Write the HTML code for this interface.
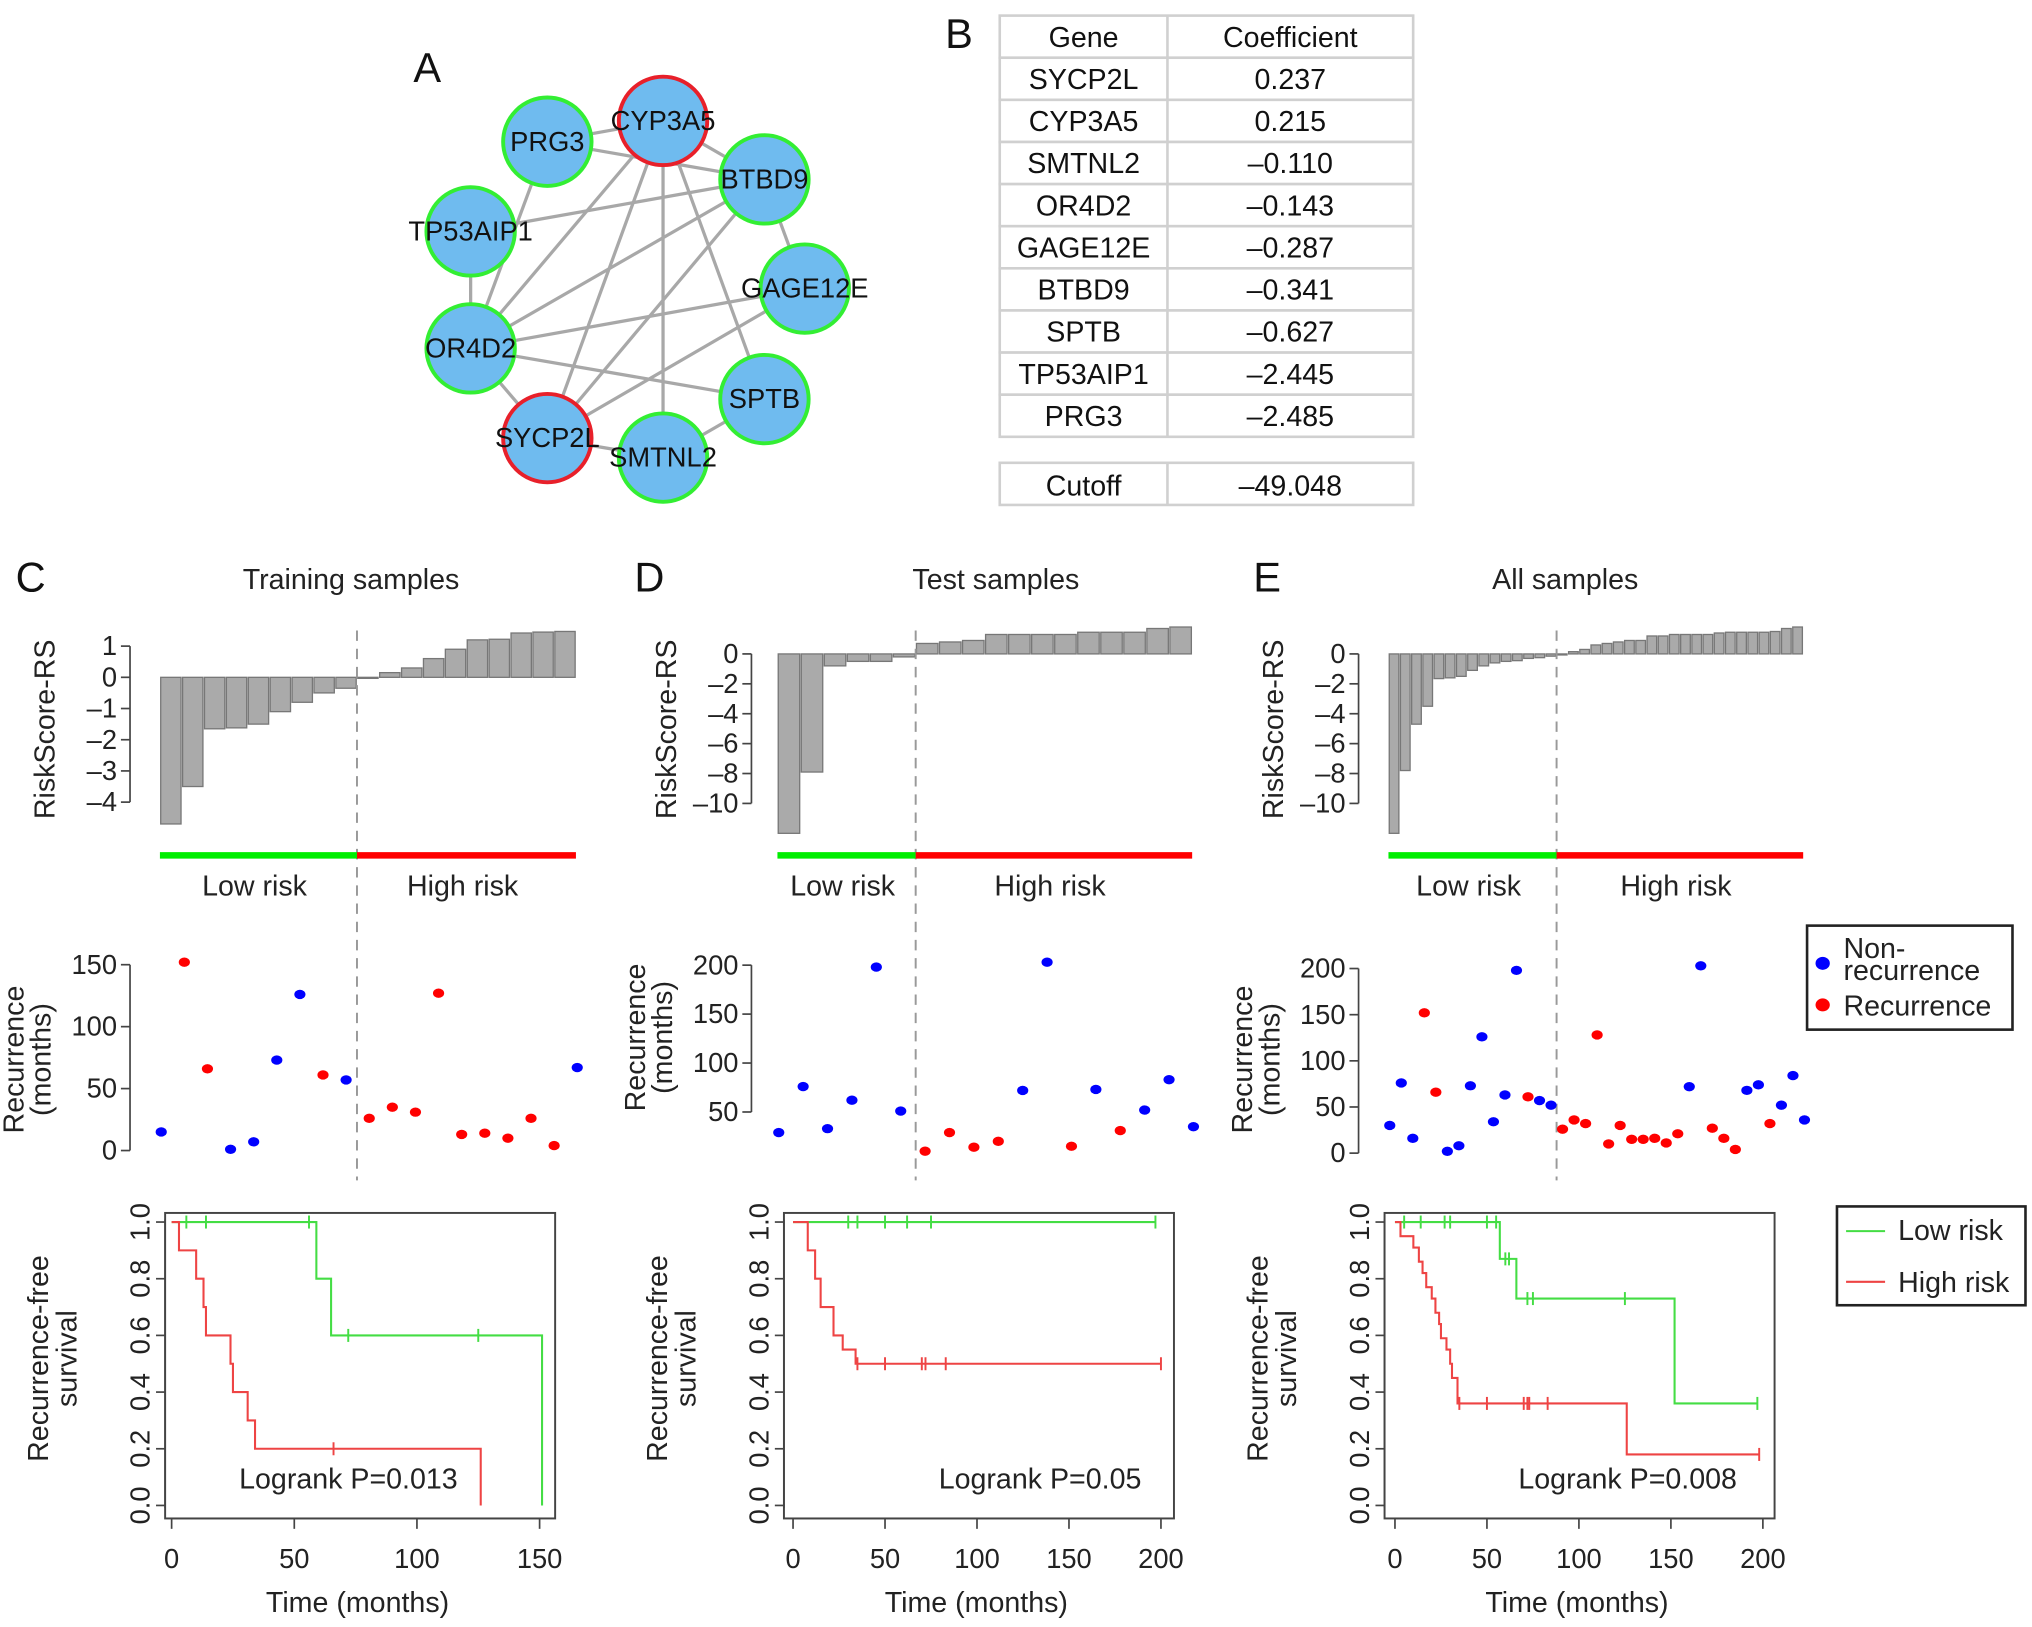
<!DOCTYPE html>
<html><head><meta charset="utf-8"><style>
html,body{margin:0;padding:0;background:#fff;}
svg{display:block;font-family:"Liberation Sans",Arial,sans-serif;}
</style></head><body>
<svg id="fig" xmlns="http://www.w3.org/2000/svg" width="2032" height="1627" viewBox="0 0 1563 1251.5">
<rect width="1563" height="1251.5" fill="#fff"/>
<g id="net"></g>
<g id="tbl"></g>
<g id="plots"></g>
</svg>
<script>
// ---- data ----
const genes = ["SYCP2L","CYP3A5","SMTNL2","OR4D2","GAGE12E","BTBD9","SPTB","TP53AIP1","PRG3"];
const coefs = ["0.237","0.215","\u20130.110","\u20130.143","\u20130.287","\u20130.341","\u20130.627","\u20132.445","\u20132.485"];
const cutoffLabel = "\u201349.048";

const barsC = [-4.7,-3.5,-1.65,-1.62,-1.5,-1.1,-0.8,-0.5,-0.35,0.0,0.15,0.3,0.6,0.9,1.2,1.22,1.42,1.45,1.47];
const lowC = 9;
const recC = [15,152,66,1,7,73,126,61,57,26,35,31,127,13,14,10,26,4,67];
const evC  = [0,1,1,0,0,0,0,1,0,1,1,1,1,1,1,1,1,1,0];

const barsD = [-12.0,-7.9,-0.8,-0.5,-0.5,-0.2,0.7,0.8,0.9,1.3,1.3,1.3,1.3,1.45,1.45,1.45,1.7,1.8];
const lowD = 6;
const recD = [29,76,33,62,198,51,10,29,14,20,72,203,15,73,31,52,83,35];
const evD  = [0,0,0,0,0,0,1,1,1,1,0,0,1,0,1,0,0,0];

const barsE = [-12,-7.8,-4.7,-3.5,-1.65,-1.6,-1.5,-1.1,-0.8,-0.6,-0.5,-0.45,-0.3,-0.25,-0.15,0.0,0.15,0.3,0.6,0.7,0.8,0.9,0.9,1.2,1.2,1.3,1.3,1.3,1.3,1.4,1.45,1.45,1.45,1.45,1.5,1.7,1.8];
const lowE = 15;
const recE = [30,76,16,152,66,2,8,73,126,34,63,198,61,57,52,26,36,32,128,10,30,15,15,16,11,21,72,203,27,16,4,68,74,32,52,84,36];
const evE  = [0,0,0,1,1,0,0,0,0,0,0,0,1,0,0,1,1,1,1,1,1,1,1,1,1,1,0,0,1,1,1,0,0,1,0,0,0];

// KM curves: step times and survival after step
const kmCgT = [0,59,65,151];      const kmCgS = [1,0.8,0.6,0];   const kmCgEnd = 151;
const kmCgCens = [6,14,56,72,125];
const kmCrT = [0,3,10,13,14,24,25,31,34,126]; const kmCrS = [1,0.9,0.8,0.7,0.6,0.5,0.4,0.3,0.2,0]; const kmCrEnd = 126;
const kmCrCens = [66];

const kmDgT = [0]; const kmDgS = [1]; const kmDgEnd = 197;
const kmDgCens = [30,35,50,62,75,197];
const kmDrT = [0,8,12,15,22,27,34]; const kmDrS = [1,0.9,0.8,0.7,0.6,0.55,0.5]; const kmDrEnd = 200;
const kmDrCens = [35,50,70,72,83,200];

const kmEgT = [0,57,66,152]; const kmEgS = [1,0.87,0.73,0.36]; const kmEgEnd = 197;
const kmEgCens = [5,14,27,30,50,55,60,62,72,75,125,197];
const kmErT = [0,3,8,10,13,15,17,20,22,24,25,28,30,31,34,126];
const kmErS = [1,0.95,0.95,0.91,0.86,0.82,0.77,0.73,0.68,0.64,0.59,0.55,0.5,0.45,0.36,0.18];
const kmErEnd = 198;
const kmErCens = [35,50,70,72,73,83,198];

const NS = "http://www.w3.org/2000/svg";
function mk(parent, tag, attrs, text){
  const e = document.createElementNS(NS, tag);
  for (const k in attrs) e.setAttribute(k, attrs[k]);
  if (text !== undefined) e.textContent = text;
  parent.appendChild(e); return e;
}
const plots = document.getElementById('plots');

// ---- Panel A network ----
const net = document.getElementById('net');
const nodes = {CYP3A5:[510,93,1],PRG3:[421,109,0],BTBD9:[588,138,0],TP53AIP1:[362,178,0],GAGE12E:[619,222,0],OR4D2:[362,268,0],SPTB:[588,307,0],SYCP2L:[421,337,1],SMTNL2:[510,352,0]};
const edges = [["PRG3","CYP3A5"],["PRG3","BTBD9"],["PRG3","OR4D2"],["TP53AIP1","BTBD9"],["TP53AIP1","OR4D2"],["CYP3A5","OR4D2"],["CYP3A5","SYCP2L"],["CYP3A5","SMTNL2"],["CYP3A5","SPTB"],["CYP3A5","BTBD9"],["BTBD9","OR4D2"],["BTBD9","SYCP2L"],["BTBD9","GAGE12E"],["OR4D2","GAGE12E"],["OR4D2","SPTB"],["OR4D2","SYCP2L"],["SYCP2L","GAGE12E"],["SYCP2L","SMTNL2"],["SMTNL2","SPTB"]];
edges.forEach(e=>{const a=nodes[e[0]],b=nodes[e[1]];
  const l=mk(net,'line',{x1:a[0],y1:a[1],x2:b[0],y2:b[1],stroke:'#a8a8a8','stroke-width':2.5});
   });
for (const k in nodes){const n=nodes[k];
  const c=mk(net,'circle',{cx:n[0],cy:n[1],r:34,fill:'#6fbbef',stroke:n[2]?'#e8202a':'#33ee33','stroke-width':3});
   }
for (const k in nodes){const n=nodes[k];
  const t=mk(net,'text',{x:n[0],y:n[1]+7,'text-anchor':'middle','font-size':21,fill:'#111'},k);
   }
{const t=mk(net,'text',{x:318,y:63,'font-size':32,fill:'#111'},'A');  }

// ---- Panel B table ----
const tbl = document.getElementById('tbl');
{const t=mk(tbl,'text',{x:727,y:37,'font-size':32,fill:'#111'},'B');  }
const tx0=769, tx1=898, tx2=1087, rowH=32.4, ty0=12;
const rowsT=[["Gene","Coefficient"]].concat(genes.map((g,i)=>[g,coefs[i]]));
rowsT.forEach((r,i)=>{
  const y=ty0+i*rowH;
  const rc=mk(tbl,'rect',{x:tx0,y:y,width:tx2-tx0,height:rowH,fill:'#fff',stroke:'#d0d0d0','stroke-width':2});
   
  mk(tbl,'line',{x1:tx1,y1:y,x2:tx1,y2:y+rowH,stroke:'#d0d0d0','stroke-width':2});
  const a=mk(tbl,'text',{x:(tx0+tx1)/2,y:y+24,'text-anchor':'middle','font-size':22,fill:'#111'},r[0]);
   
  const b=mk(tbl,'text',{x:(tx1+tx2)/2,y:y+24,'text-anchor':'middle','font-size':22,fill:'#111'},r[1]);
   
});
{const y=356;
 mk(tbl,'rect',{x:tx0,y:y,width:tx2-tx0,height:rowH,fill:'#fff',stroke:'#d0d0d0','stroke-width':2});
 mk(tbl,'line',{x1:tx1,y1:y,x2:tx1,y2:y+rowH,stroke:'#d0d0d0','stroke-width':2});
 const a=mk(tbl,'text',{x:(tx0+tx1)/2,y:y+25,'text-anchor':'middle','font-size':22,fill:'#111'},'Cutoff');
  
 const b=mk(tbl,'text',{x:(tx1+tx2)/2,y:y+25,'text-anchor':'middle','font-size':22,fill:'#111'},cutoffLabel);
  }

// ---- helpers ----
function vtext(g,x,y,str,size){
  return mk(g,'text',{x:0,y:0,transform:`translate(${x},${y}) rotate(-90)`,'text-anchor':'middle','font-size':size||22,fill:'#222'},str);
}
function panel(cfg){
  const g=mk(plots,'g',{});
   
  const L=mk(g,'text',{x:cfg.labelX,y:455,'font-size':32,fill:'#111'},cfg.id.toUpperCase());
   
  const T=mk(g,'text',{x:cfg.titleX,y:453,'text-anchor':'middle','font-size':22,fill:'#222'},cfg.title);
   
  // bar chart
  const bars=cfg.bars, n=bars.length, bw=(cfg.x1-cfg.x0)/n;
  const by=v=>cfg.zeroY - v*cfg.ppu;
  const ax=cfg.axisX;
  mk(g,'line',{x1:ax,y1:by(cfg.bTicks[0]),x2:ax,y2:by(cfg.bTicks[cfg.bTicks.length-1]),stroke:'#444','stroke-width':1.3});
  cfg.bTicks.forEach(t=>{
    mk(g,'line',{x1:ax-7,y1:by(t),x2:ax,y2:by(t),stroke:'#444','stroke-width':1.3});
    const tt=mk(g,'text',{x:ax-10,y:by(t)+7,'text-anchor':'end','font-size':21,fill:'#222'},t<0?'\u2013'+(-t):String(t));
     
  });
  const yl=vtext(g,ax-58,cfg.zeroY+cfg.bLabelOff,'RiskScore-RS',22);
   
  bars.forEach((v,i)=>{
    const y0=Math.min(by(v),by(0)), h=Math.max(Math.abs(by(v)-by(0)),0.8);
    const r=mk(g,'rect',{x:cfg.x0+i*bw+0.6,y:y0,width:bw-1.2,height:h,fill:'#aaaaaa',stroke:'#777','stroke-width':1});
     
  });
  const dx=cfg.x0+cfg.nLow*bw;
  const dl=mk(g,'line',{x1:dx,y1:485,x2:dx,y2:908,stroke:'#999','stroke-width':1.5,'stroke-dasharray':'8,6'});
   
  const gb=mk(g,'line',{x1:cfg.x0,y1:658,x2:dx,y2:658,stroke:'#00ee00','stroke-width':5});
   
  const rb=mk(g,'line',{x1:dx,y1:658,x2:cfg.x1,y2:658,stroke:'#ff0000','stroke-width':5});
   
  const lt=mk(g,'text',{x:(cfg.x0+dx)/2-3,y:689,'text-anchor':'middle','font-size':22,fill:'#222'},'Low risk');
   
  const ht=mk(g,'text',{x:(dx+cfg.x1)/2-3,y:689,'text-anchor':'middle','font-size':22,fill:'#222'},'High risk');
   
  // scatter
  const sy=v=>cfg.sZero - v*cfg.sPpu;
  mk(g,'line',{x1:ax,y1:sy(cfg.sTicks[0]),x2:ax,y2:sy(cfg.sTicks[cfg.sTicks.length-1]),stroke:'#444','stroke-width':1.3});
  cfg.sTicks.forEach(t=>{
    mk(g,'line',{x1:ax-7,y1:sy(t),x2:ax,y2:sy(t),stroke:'#444','stroke-width':1.3});
    const tt=mk(g,'text',{x:ax-10,y:sy(t)+7,'text-anchor':'end','font-size':21,fill:'#222'},String(t));
     
  });
  const sl1=vtext(g,ax-82,cfg.sLabelY,'Recurrence',22);  
  const sl2=vtext(g,ax-61,cfg.sLabelY,'(months)',22);  
  const px0=cfg.x0+1, px1=cfg.x1+1, rec=cfg.rec;
  rec.forEach((v,i)=>{
    const e=mk(g,'ellipse',{cx:px0+i*(px1-px0)/(rec.length-1),cy:sy(v),rx:4.3,ry:3.6,fill:cfg.ev[i]?'#ff0000':'#0000ff'});
     
  });
  // KM
  const kx=t=>cfg.kx0 + t*cfg.kppm, ky=s=>1158 - s*218;
  const box=mk(g,'rect',{x:cfg.bx0,y:933,width:cfg.bx1-cfg.bx0,height:235,fill:'none',stroke:'#444','stroke-width':1.5});
   
  [0,0.2,0.4,0.6,0.8,1.0].forEach(s=>{
    mk(g,'line',{x1:cfg.bx0-7,y1:ky(s),x2:cfg.bx0,y2:ky(s),stroke:'#444','stroke-width':1.3});
    const tt=mk(g,'text',{x:0,y:0,transform:`translate(${cfg.bx0-12},${ky(s)}) rotate(-90)`,'text-anchor':'middle','font-size':21,fill:'#222'},s.toFixed(1));
     
  });
  mk(g,'line',{x1:cfg.bx0,y1:ky(1)-2,x2:cfg.bx0,y2:ky(0)+2,stroke:'#444','stroke-width':1.3});
  mk(g,'line',{x1:kx(cfg.xTicks[0]),y1:1168,x2:kx(cfg.xTicks[cfg.xTicks.length-1]),y2:1168,stroke:'#444','stroke-width':1.3});
  cfg.xTicks.forEach(t=>{
    mk(g,'line',{x1:kx(t),y1:1168,x2:kx(t),y2:1176,stroke:'#444','stroke-width':1.3});
    const tt=mk(g,'text',{x:kx(t),y:1206,'text-anchor':'middle','font-size':21,fill:'#222'},String(t));
     
  });
  const xt=mk(g,'text',{x:(cfg.bx0+cfg.bx1)/2-2,y:1240,'text-anchor':'middle','font-size':22,fill:'#222'},'Time (months)');
   
  const k1=vtext(g,cfg.bx0-90,1045,'Recurrence-free',22);  
  const k2=vtext(g,cfg.bx0-68,1045,'survival',22);  
  function curve(T,S,end,cens,col,name){
    let d=`M${kx(T[0])},${ky(S[0])}`;
    for(let i=1;i<T.length;i++){d+=`H${kx(T[i])}V${ky(S[i])}`;}
    d+=`H${kx(end)}`;
    const p=mk(g,'path',{d:d,fill:'none',stroke:col,'stroke-width':1.6});
     
    cens.forEach(t=>{
      let s=S[0]; for(let i=0;i<T.length;i++){ if(T[i]<=t) s=S[i]; }
      const c=mk(g,'line',{x1:kx(t),y1:ky(s)-5,x2:kx(t),y2:ky(s)+5,stroke:col,'stroke-width':1.5});
       
    });
  }
  curve(cfg.gT,cfg.gS,cfg.gEnd,cfg.gC,'#44dd44','low-risk-curve');
  curve(cfg.rT,cfg.rS,cfg.rEnd,cfg.rC,'#ee4444','high-risk-curve');
  const pv=mk(g,'text',{x:cfg.pX,y:1145,'text-anchor':'middle','font-size':22,fill:'#222'},cfg.pText);
   
}

panel({id:'c',labelX:12,title:'Training samples',titleX:270,axisX:100,x0:123,x1:443,zeroY:521,ppu:24,bTicks:[1,0,-1,-2,-3,-4],bLabelOff:40,
  bars:barsC,nLow:lowC,rec:recC,ev:evC,sZero:885,sPpu:0.953,sTicks:[0,50,100,150],sLabelY:815,
  bx0:127,bx1:427,kx0:132,kppm:1.887,xTicks:[0,50,100,150],
  gT:kmCgT,gS:kmCgS,gEnd:kmCgEnd,gC:kmCgCens,rT:kmCrT,rS:kmCrS,rEnd:kmCrEnd,rC:kmCrCens,pX:268,pText:'Logrank P=0.013'});
panel({id:'d',labelX:488,title:'Test samples',titleX:766,axisX:578,x0:598,x1:917,zeroY:503,ppu:11.5,bTicks:[0,-2,-4,-6,-8,-10],bLabelOff:58,
  bars:barsD,nLow:lowD,rec:recD,ev:evD,sZero:893,sPpu:0.753,sTicks:[50,100,150,200],sLabelY:798,
  bx0:603,bx1:903,kx0:610,kppm:1.415,xTicks:[0,50,100,150,200],
  gT:kmDgT,gS:kmDgS,gEnd:kmDgEnd,gC:kmDgCens,rT:kmDrT,rS:kmDrS,rEnd:kmDrEnd,rC:kmDrCens,pX:800,pText:'Logrank P=0.05'});
panel({id:'e',labelX:964,title:'All samples',titleX:1204,axisX:1045,x0:1068,x1:1387,zeroY:503,ppu:11.5,bTicks:[0,-2,-4,-6,-8,-10],bLabelOff:58,
  bars:barsE,nLow:lowE,rec:recE,ev:evE,sZero:887,sPpu:0.71,sTicks:[0,50,100,150,200],sLabelY:815,
  bx0:1065,bx1:1365,kx0:1073,kppm:1.415,xTicks:[0,50,100,150,200],
  gT:kmEgT,gS:kmEgS,gEnd:kmEgEnd,gC:kmEgCens,rT:kmErT,rS:kmErS,rEnd:kmErEnd,rC:kmErCens,pX:1252,pText:'Logrank P=0.008'});

// legends
{const g=mk(plots,'g',{});
  
 mk(g,'rect',{x:1390,y:712,width:158,height:80,fill:'#fff',stroke:'#222','stroke-width':2});
 mk(g,'ellipse',{cx:1402,cy:741,rx:5.5,ry:5,fill:'#0000ff'});
 mk(g,'ellipse',{cx:1402,cy:773,rx:5.5,ry:5,fill:'#ff0000'});
 const a=mk(g,'text',{x:1418,y:737,'font-size':22,fill:'#222'},'Non-');  
 mk(g,'text',{x:1418,y:754,'font-size':22,fill:'#222'},'recurrence');
 const b=mk(g,'text',{x:1418,y:781,'font-size':22,fill:'#222'},'Recurrence');  }
{const g=mk(plots,'g',{});
  
 mk(g,'rect',{x:1413,y:928,width:145,height:76,fill:'#fff',stroke:'#222','stroke-width':2});
 mk(g,'line',{x1:1420,y1:947,x2:1450,y2:947,stroke:'#44dd44','stroke-width':1.6});
 mk(g,'line',{x1:1420,y1:986,x2:1450,y2:986,stroke:'#ee4444','stroke-width':1.6});
 const a=mk(g,'text',{x:1460,y:954,'font-size':22,fill:'#222'},'Low risk');  
 const b=mk(g,'text',{x:1460,y:994,'font-size':22,fill:'#222'},'High risk');  }
</script>
</body></html>
